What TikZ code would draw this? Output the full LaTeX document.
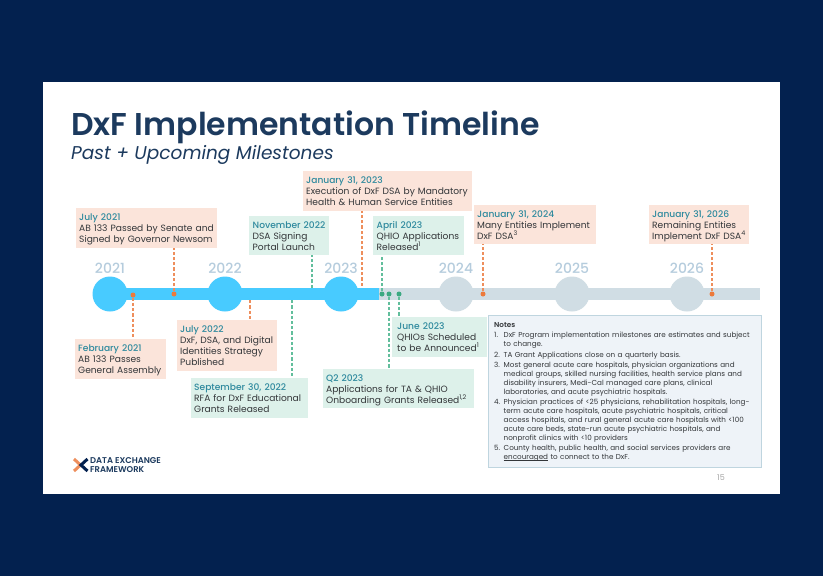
\documentclass[tikz,border=0pt]{standalone}
\usepackage{fontspec}
\setmainfont{Poppins}
\newfontfamily\medfont{Poppins Medium}
\newfontfamily\semifont{Poppins SemiBold}
\definecolor{navy}{HTML}{03214F}
\definecolor{ink}{HTML}{1C3A5E}
\definecolor{peach}{HTML}{FBE4DA}
\definecolor{mint}{HTML}{DDF1EA}
\definecolor{teal}{HTML}{2F8A9E}
\definecolor{body}{HTML}{333639}
\definecolor{orng}{HTML}{EE8E5C}
\definecolor{orngdot}{HTML}{EC7A3C}
\definecolor{grn}{HTML}{62BE9C}
\definecolor{grndot}{HTML}{3BA982}
\definecolor{sky}{HTML}{48CBFF}
\definecolor{mist}{HTML}{D0DDE4}
\definecolor{yr}{HTML}{B5CCDD}
\definecolor{notefill}{HTML}{EEF3F8}
\definecolor{noteline}{HTML}{BFD5DF}
\tikzset{
  x=1pt,y=-1pt,
  msbox/.style={anchor=north west,inner xsep=3pt,inner ysep=0pt,align=left,font=\fontsize{9.1}{11}\selectfont,text=body,execute at begin node={\rule{0pt}{9.6pt}},execute at end node={\rule[-2.6pt]{0pt}{1pt}}},
  pbox/.style={msbox,fill=peach},
  gbox/.style={msbox,fill=mint},
  orangedash/.style={draw=orng,line width=1.5pt,dash pattern=on 3.2pt off 2pt},
  greendash/.style={draw=grn,line width=1.5pt,dash pattern=on 3.2pt off 2pt},
  odot/.style={circle,fill=orngdot,inner sep=0pt,minimum size=5pt},
  gdot/.style={circle,fill=grndot,inner sep=0pt,minimum size=5pt},
  nub/.style={inner sep=0pt,minimum size=0pt},
  yearlabel/.style={font=\fontsize{14}{14}\medfont,text=yr},
  bluecircle/.style={circle,fill=sky,inner sep=0pt,minimum size=35pt},
  greycircle/.style={circle,fill=mist,inner sep=0pt,minimum size=35pt},
}
\newcommand{\dt}[1]{{\color{teal}\medfont #1}}
\newcommand{\sps}[1]{\smash{\textsuperscript{#1}}}
\newcommand{\itm}[1]{\makebox[9.5pt][l]{#1}}
\newcommand{\ulword}[1]{\setbox0\hbox{#1}\rlap{\rule[-1.1pt]{\wd0}{0.4pt}}\box0\relax}
\begin{document}
\begin{tikzpicture}
\useasboundingbox (0,0) rectangle (823,576);
\fill[navy] (0,0) rectangle (823,576);
\fill[white] (43,82) rectangle (780,494);
\node[anchor=base west,inner sep=0pt,text=ink,font=\fontsize{31.5}{31.5}\semifont] (title) at (71,135) {DxF Implementation Timeline};
\node[anchor=base west,inner sep=0pt,text=ink,font=\fontsize{18.5}{18.5}\selectfont\itshape] (subtitle) at (71,159) {Past + Upcoming Milestones};
% bars
\fill[mist] (379,288) rectangle (760,300);
\fill[sky] (110,288) rectangle (379,300);
\foreach \n/\x/\y in {c21/110/2021,c22/225/2022,c23/341/2023}{
  \node[bluecircle] (\n) at (\x,294) {};
  \node[yearlabel] (y\n) at (\x,268.5) {\y};
}
\foreach \n/\x/\y in {c24/456/2024,c25/572/2025,c26/687/2026}{
  \node[greycircle] (\n) at (\x,294) {};
  \node[yearlabel] (y\n) at (\x,268.5) {\y};
}
% boxes
\node[pbox,text width=135pt,minimum height=40pt] (jul21) at (76,208) {\dt{July 2021}\\AB 133 Passed by Senate and\\Signed by Governor Newsom};
\node[pbox,text width=163pt,minimum height=40pt] (jan23) at (303,171) {\dt{January 31, 2023}\\Execution of DxF DSA by Mandatory\\Health \& Human Service Entities};
\node[gbox,inner xsep=3.5pt,text width=73pt,minimum height=39pt] (nov22) at (249,216) {\dt{November 2022}\\DSA Signing\\Portal Launch};
\node[gbox,inner xsep=3.5pt,text width=84pt,minimum height=39pt] (apr23) at (373,216) {\dt{April 2023}\\QHIO Applications\\Released\sps{1}};
\node[pbox,text width=116pt,minimum height=39pt] (jan24) at (474,205) {\dt{January 31, 2024}\\Many Entities Implement\\DxF DSA\sps{3}};
\node[pbox,text width=94pt,minimum height=39pt] (jan26) at (649,205) {\dt{January 31, 2026}\\Remaining Entities\\Implement DxF DSA\sps{4}};
\node[pbox,text width=85pt,minimum height=40pt] (feb21) at (75,339) {\dt{February 2021}\\AB 133 Passes\\General Assembly};
\node[pbox,text width=94pt,minimum height=51pt] (jul22) at (177,320) {\dt{July 2022}\\DxF, DSA, and Digital\\Identities Strategy\\Published};
\node[gbox,text width=111pt,minimum height=40pt] (sep22) at (191,378) {\dt{September 30, 2022}\\RFA for DxF Educational\\Grants Released};
\node[gbox,text width=145pt,minimum height=39pt] (q223) at (323,369) {\dt{Q2 2023}\\Applications for TA \& QHIO\\Onboarding Grants Released\sps{1,2}};
\node[gbox,inner xsep=5pt,text width=85pt,minimum height=40pt] (jun23) at (392,317) {\dt{June 2023}\\QHIOs Scheduled\\to be Announced\sps{1}};
% dots and bar ends
\node[odot] (dfeb21) at (133,295) {};
\node[odot] (djul21) at (174,294) {};
\node[nub] (djul22) at (250,300) {};
\node[nub] (dsep22) at (292,300) {};
\node[nub] (dnov22) at (312,288) {};
\node[nub] (djan23) at (362,286) {};
\node[gdot] (dapr23) at (382,294) {};
\node[gdot] (dq223) at (389,294) {};
\node[gdot] (djun23) at (399,294) {};
\node[odot] (djan24) at (483,294) {};
\node[odot] (djan26) at (712,294) {};
% connectors
\draw[orangedash] (dfeb21) -- (dfeb21 |- feb21.north);
\draw[orangedash] (djul21) -- (djul21 |- jul21.south);
\draw[orangedash] (djul22) -- (djul22 |- jul22.north);
\draw[greendash] (dsep22) -- (dsep22 |- sep22.north);
\draw[greendash] (dnov22) -- (dnov22 |- nov22.south);
\draw[orangedash] (djan23) -- (djan23 |- jan23.south);
\draw[greendash] (dapr23) -- (dapr23 |- apr23.south);
\draw[greendash] (dq223) -- (dq223 |- q223.north);
\draw[greendash] (djun23) -- (djun23 |- jun23.north);
\draw[orangedash] (djan24) -- (djan24 |- jan24.south);
\draw[orangedash] (djan26) -- (djan26 |- jan26.south);
% notes
\node[anchor=north west,draw=noteline,line width=1pt,fill=notefill,minimum width=273pt,minimum height=152pt] (notes) at (488,315) {};
\node[anchor=north west,inner sep=0pt,text width=264pt,align=left,text=body,font=\fontsize{7.2}{8.85}\selectfont] (notetext) at (494,322) {%
{\semifont Notes}\\[1.7pt]
\itm{1.}DxF Program implementation milestones are estimates and subject\\
\hspace*{9.5pt}to change.\\[1.7pt]
\itm{2.}TA Grant Applications close on a quarterly basis.\\[1.7pt]
\itm{3.}Most general acute care hospitals, physician organizations and\\
\hspace*{9.5pt}medical groups, skilled nursing facilities, health service plans and\\
\hspace*{9.5pt}disability insurers, Medi-Cal managed care plans, clinical\\
\hspace*{9.5pt}laboratories, and acute psychiatric hospitals.\\[1.7pt]
\itm{4.}Physician practices of <25 physicians, rehabilitation hospitals, long-\\
\hspace*{9.5pt}term acute care hospitals, acute psychiatric hospitals, critical\\
\hspace*{9.5pt}access hospitals, and rural general acute care hospitals with <100\\
\hspace*{9.5pt}acute care beds, state-run acute psychiatric hospitals, and\\
\hspace*{9.5pt}nonprofit clinics with <10 providers\\[1.7pt]
\itm{5.}County health, public health, and social services providers are\\
\hspace*{9.5pt}\ulword{encouraged} to connect to the DxF.};
\node[anchor=center,text=gray!70,font=\fontsize{8}{8}\selectfont] (pageno) at (721,478) {15};
% logo
\draw[orng,line width=3pt] (74,459) -- (80.5,465) -- (74,471);
\draw[navy,line width=3pt] (87.5,459) -- (81,465) -- (87.5,471);
\node[anchor=west,inner sep=0pt,align=left,text=ink,font=\fontsize{8.4}{8.8}\semifont] (logo) at (90,465.3) {DATA EXCHANGE\\FRAMEWORK};
\end{tikzpicture}
\end{document}
